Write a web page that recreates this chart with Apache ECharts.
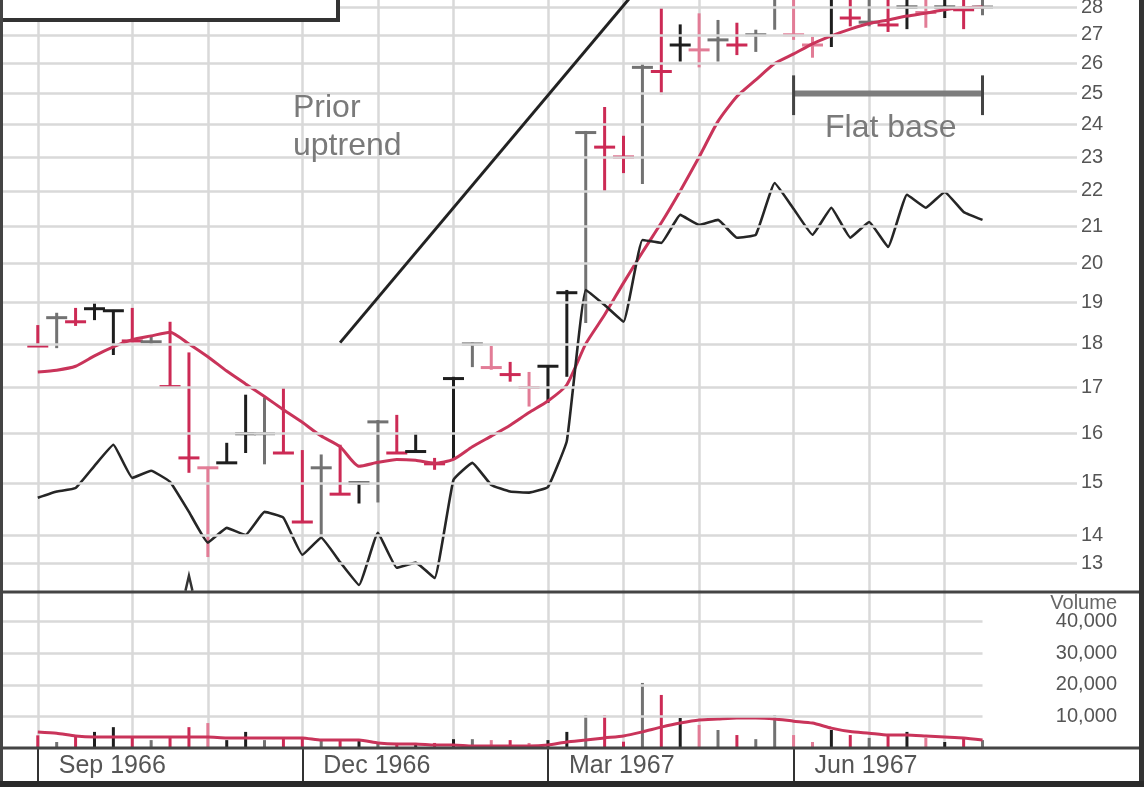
<!DOCTYPE html>
<html>
<head>
<meta charset="utf-8">
<script src="https://cdn.jsdelivr.net/npm/echarts@6/dist/echarts.min.js"></script>
<style>
html,body{margin:0;padding:0;background:#ffffff;}
#chart{width:1144px;height:787px;}
</style>
</head>
<body>
<div id="chart"></div>
<script>
// ---------------- DATA ----------------
// weekly bars, week 0 = first week of Sep 1966
const quarterLabels = ['Sep 1966', 'Dec 1966', 'Mar 1967', 'Jun 1967'];
const quarterWeeks = [0, 14, 27, 40];
const monthWeeks = [0, 5, 9, 14, 18, 22, 27, 31, 35, 40, 44, 48];

const highs = [18.45, 18.75, 18.87, 19.02, 18.82, 18.87, 18.2, 18.53, 17.8, 15.32,
  15.81, 16.84, 16.78, 17.0, 15.66, 15.57, 15.77, 15.02, 16.29, 16.4,
  16.02, 15.5, 17.24, 18.03, 17.95, 17.58, 17.35, 17.5, 19.32, 23.8,
  24.56, 23.65, 25.98, 27.97, 27.37, 27.77, 27.53, 27.43, 27.18, 28.8,
  28.9, 26.93, 28.6, 28.5, 28.5, 28.4, 28.5, 28.4, 28.4, 28.4, 28.3];
const lows = [17.93, 17.9, 18.43, 18.57, 17.74, 18.05, 17.97, 17.0, 15.2, 13.61,
  15.4, 15.6, 15.37, 15.6, 14.23, 13.96, 14.77, 14.6, 14.62, 15.6,
  15.63, 15.26, 15.46, 17.46, 17.4, 17.13, 16.58, 16.66, 17.24, 18.5,
  21.98, 22.52, 22.2, 24.97, 26.07, 25.87, 26.07, 26.29, 26.4, 27.18,
  26.82, 26.2, 26.57, 27.3, 27.3, 27.1, 27.2, 27.25, 27.6, 27.2, 27.7];
const closes = [17.95, 18.63, 18.53, 18.85, 18.8, 18.07, 18.05, 17.02, 15.5, 15.3,
  15.4, 16.0, 16.0, 15.6, 14.25, 15.3, 14.78, 15.0, 16.25, 15.6,
  15.63, 15.38, 17.2, 18.0, 17.45, 17.29, 17.0, 17.48, 19.25, 23.75,
  23.3, 23.0, 25.87, 25.73, 26.64, 26.47, 26.82, 26.64, 27.0, 28.4,
  27.0, 26.64, 28.4, 27.6, 27.45, 27.35, 28.0, 27.8, 28.0, 27.9, 28.0];
// r = red, p = pink, k = black, g = grey
const barTone = ['r','g','r','k','k','r','g','r','r','p',
  'k','k','g','r','r','g','r','k','g','r',
  'k','r','k','g','p','r','p','k','k','g',
  'r','r','g','r','k','p','g','r','g','g',
  'p','p','k','r','g','r','k','p','k','r','g'];

const priceMA = [17.35, 17.39, 17.48, 17.72, 17.93, 18.1, 18.19, 18.28, 18.0, 17.7,
  17.37, 17.08, 16.8, 16.51, 16.24, 15.95, 15.73, 15.33, 15.41, 15.47,
  15.45, 15.39, 15.47, 15.73, 15.95, 16.18, 16.45, 16.7, 17.06, 18.0,
  18.7, 19.5, 20.3, 21.1, 22.0, 23.0, 24.1, 24.9, 25.45, 26.0,
  26.33, 26.68, 26.96, 27.2, 27.4, 27.53, 27.67, 27.78, 27.9, 27.97, 28.0];

const relStrength = [14.71, 14.83, 14.90, 15.34, 15.77, 15.10, 15.24, 15.02, 14.44, 13.87,
  14.14, 14.01, 14.44, 14.33, 13.65, 13.96, 13.52, 13.12, 14.05, 13.42,
  13.51, 13.24, 15.06, 15.40, 14.96, 14.83, 14.81, 14.92, 15.85, 19.32,
  18.94, 18.53, 20.63, 20.55, 21.32, 21.04, 21.18, 20.69, 20.77, 22.23,
  21.49, 20.77, 21.52, 20.69, 21.12, 20.44, 21.89, 21.52, 21.97, 21.40, 21.18];

const volume = [4000, 1900, 3500, 5100, 6600, 3500, 2500, 3500, 6600, 7900,
  2500, 5100, 2500, 3200, 3500, 2500, 2500, 2500, 1600, 1600,
  1000, 1600, 2800, 2800, 2500, 2500, 1600, 2500, 5100, 10400,
  10400, 2000, 20600, 16800, 9500, 7300, 5700, 4100, 2800, 10400,
  4100, 1900, 5700, 4100, 3200, 4100, 5100, 3200, 1900, 3200, 2500];

const volumeMA = [5100, 4700, 3800, 3500, 3500, 3500, 3500, 3500, 3500, 3500,
  3200, 3200, 3200, 3200, 3200, 2500, 2500, 2500, 1600, 1300,
  1300, 950, 950, 630, 630, 630, 630, 950, 1900, 2500,
  3200, 3800, 5100, 6600, 7900, 8900, 9200, 9500, 9500, 9200,
  8500, 7900, 6300, 5200, 4700, 4100, 4100, 3800, 3500, 3200, 2500];

const priceTickValues = [13.5, 14, 15, 16, 17, 18, 19, 20, 21, 22, 23, 24, 25, 26, 27, 28];
const priceTickLabels = ['13','14','15','16','17','18','19','20','21','22','23','24','25','26','27','28'];
const volumeTickValues = [10000, 20000, 30000, 40000];

// annotations (week, price)
const trendLine = [[16.26, 18.03], [31.9, 28.9]];
const flatBase = { fromWeek: 40, toWeek: 50, level: 25.0, tickHigh: 25.6, tickLow: 24.3 };
const caretMark = { week: 8, top: 13.28, bottom: 13.02 };

// ---------------- BUILD ----------------
const PAD_LEFT = 2, PAD_RIGHT = 5;
const categories = [];
for (let i = -PAD_LEFT; i < highs.length + PAD_RIGHT; i++) categories.push(String(i));
const toneColor = { r: '#cc2a55', p: '#e27c96', k: '#1e1e1e', g: '#727272' };
const toneCode = { r: 0, p: 1, k: 2, g: 3 };
const toneList = [toneColor.r, toneColor.p, toneColor.k, toneColor.g];

const barData = highs.map((h, i) => [i + PAD_LEFT, h, lows[i], closes[i], toneCode[barTone[i]]]);
const volData = volume.map((v, i) => [i + PAD_LEFT, v, toneCode[barTone[i]]]);
const maData = priceMA.map((v, i) => [i + PAD_LEFT, v]);
const rsData = relStrength.map((v, i) => [i + PAD_LEFT, v]);
const vmaData = volumeMA.map((v, i) => [i + PAD_LEFT, v]);

const monthIdx = new Set(monthWeeks.map(w => w + PAD_LEFT));
const quarterIdx = {};
quarterWeeks.forEach((w, i) => { quarterIdx[w + PAD_LEFT] = quarterLabels[i]; });

const gridColor = '#d9d9d9';
const labelFont = '"Liberation Sans", Arial, Helvetica, sans-serif';

const chart = echarts.init(document.getElementById('chart'), null, { renderer: 'canvas' });

const option = {
  animation: false,
  backgroundColor: '#ffffff',
  grid: [
    { left: 0, top: 0, width: 1077, height: 592, outerBoundsMode: 'none' },
    { left: 0, top: 592, width: 1077, height: 156, outerBoundsMode: 'none' }
  ],
  xAxis: [
    {
      type: 'category', gridIndex: 0, data: categories, boundaryGap: false,
      axisLine: { show: false }, axisTick: { show: false }, axisLabel: { show: false },
      splitLine: { show: true, interval: (idx) => monthIdx.has(idx), lineStyle: { color: gridColor, width: 2.5 } }
    },
    {
      type: 'category', gridIndex: 1, data: categories, boundaryGap: false,
      axisLine: { show: false },
      axisTick: { show: true, interval: (idx) => quarterIdx[idx] !== undefined, length: 33, lineStyle: { color: '#333', width: 2 } },
      axisLabel: {
        show: true, interval: (idx) => quarterIdx[idx] !== undefined,
        formatter: (val, idx) => quarterIdx[idx] || '',
        align: 'left', padding: [0, 0, 0, 21], margin: 6,
        fontSize: 25, color: '#555', fontFamily: labelFont
      },
      splitLine: { show: true, interval: (idx) => monthIdx.has(idx), lineStyle: { color: gridColor, width: 2.5 } }
    }
  ],
  yAxis: [
    {
      type: 'log', gridIndex: 0, min: 13, max: 28.26, logBase: 10,
      axisLine: { show: false }, axisTick: { show: false }, axisLabel: { show: false }, splitLine: { show: false }
    },
    {
      type: 'value', gridIndex: 1, min: 0, max: 49400, interval: 10000, position: 'right',
      axisLine: { show: false }, axisTick: { show: false }, splitLine: { show: false },
      axisLabel: {
        show: true, margin: 40, align: 'right', fontSize: 20, color: '#555', fontFamily: labelFont,
        showMaxLabel: false, showMinLabel: false,
        formatter: (v) => (v > 0 && v % 10000 === 0) ? String(v).replace(/\B(?=(\d{3})+(?!\d))/g, ',') : ''
      }
    }
  ],
  series: [
    // price grid lines and labels
    {
      type: 'line', xAxisIndex: 0, yAxisIndex: 0, data: [], z: 1, silent: true,
      markLine: {
        silent: true, symbol: ['none', 'none'], animation: false,
        lineStyle: { color: gridColor, width: 2.5, type: 'solid' },
        label: { show: true, position: 'end', distance: 4, fontSize: 20, color: '#555', fontFamily: labelFont, padding: [0, 0, 10, 0] },
        emphasis: { disabled: true },
        data: priceTickValues.map((v, i) => ({ yAxis: v, label: { formatter: priceTickLabels[i] } }))
      }
    },
    // volume grid lines
    {
      type: 'line', xAxisIndex: 1, yAxisIndex: 1, data: [], z: 1, silent: true,
      markLine: {
        silent: true, symbol: ['none', 'none'], animation: false,
        lineStyle: { color: gridColor, width: 2.5, type: 'solid' },
        label: { show: false },
        emphasis: { disabled: true },
        data: volumeTickValues.map(v => [{ coord: [0, v] }, { coord: [highs.length - 1 + PAD_LEFT, v] }])
      }
    },
    // price bars
    {
      type: 'custom', xAxisIndex: 0, yAxisIndex: 0, z: 3, clip: true,
      data: barData,
      renderItem: function (params, api) {
        const x = api.value(0);
        const hi = api.coord([x, api.value(1)]);
        const lo = api.coord([x, api.value(2)]);
        const cl = api.coord([x, api.value(3)]);
        const col = toneList[api.value(4)];
        return {
          type: 'group', children: [
            { type: 'line', shape: { x1: hi[0], y1: hi[1], x2: lo[0], y2: lo[1] }, style: { stroke: col, lineWidth: 3 } },
            { type: 'line', shape: { x1: cl[0] - 10.5, y1: cl[1], x2: cl[0] + 10.5, y2: cl[1] }, style: { stroke: col, lineWidth: 3 } }
          ]
        };
      }
    },
    // moving average
    {
      type: 'line', xAxisIndex: 0, yAxisIndex: 0, data: maData, z: 4, smooth: 0.2,
      symbol: 'none', lineStyle: { color: '#c9345a', width: 3 }
    },
    // relative strength line
    {
      type: 'line', xAxisIndex: 0, yAxisIndex: 0, data: rsData, z: 4, smooth: 0.1,
      symbol: 'none', lineStyle: { color: '#262626', width: 2.6 }
    },
    // annotations: trend line, flat base bracket, caret marker
    {
      type: 'custom', xAxisIndex: 0, yAxisIndex: 0, z: 5, clip: false,
      data: [[0]],
      renderItem: function (params, api) {
        const a = api.coord([trendLine[0][0] + PAD_LEFT, trendLine[0][1]]);
        const b = api.coord([trendLine[1][0] + PAD_LEFT, trendLine[1][1]]);
        const f1 = api.coord([flatBase.fromWeek + PAD_LEFT, flatBase.level]);
        const f2 = api.coord([flatBase.toWeek + PAD_LEFT, flatBase.level]);
        const t1 = api.coord([flatBase.fromWeek + PAD_LEFT, flatBase.tickHigh]);
        const t2 = api.coord([flatBase.fromWeek + PAD_LEFT, flatBase.tickLow]);
        const t3 = api.coord([flatBase.toWeek + PAD_LEFT, flatBase.tickHigh]);
        const t4 = api.coord([flatBase.toWeek + PAD_LEFT, flatBase.tickLow]);
        const c1 = api.coord([caretMark.week + PAD_LEFT, caretMark.top]);
        const c2 = api.coord([caretMark.week + PAD_LEFT, caretMark.bottom]);
        return {
          type: 'group', children: [
            { type: 'line', shape: { x1: a[0], y1: a[1], x2: b[0], y2: b[1] }, style: { stroke: '#222', lineWidth: 3 } },
            { type: 'line', shape: { x1: f1[0], y1: f1[1], x2: f2[0], y2: f2[1] }, style: { stroke: '#7d7d7d', lineWidth: 6 } },
            { type: 'line', shape: { x1: t1[0], y1: t1[1], x2: t2[0], y2: t2[1] }, style: { stroke: '#444', lineWidth: 3 } },
            { type: 'line', shape: { x1: t3[0], y1: t3[1], x2: t4[0], y2: t4[1] }, style: { stroke: '#444', lineWidth: 3 } },
            { type: 'polyline', shape: { points: [[c1[0] - 3.5, c2[1]], [c1[0], c1[1]], [c1[0] + 3.5, c2[1]]] }, style: { stroke: '#333', lineWidth: 2.5, fill: null } }
          ]
        };
      }
    },
    // volume bars
    {
      type: 'custom', xAxisIndex: 1, yAxisIndex: 1, z: 3,
      data: volData,
      renderItem: function (params, api) {
        const x = api.value(0);
        const top = api.coord([x, api.value(1)]);
        const bot = api.coord([x, 0]);
        return { type: 'line', shape: { x1: top[0], y1: top[1], x2: bot[0], y2: bot[1] }, style: { stroke: toneList[api.value(2)], lineWidth: 3 } };
      }
    },
    // volume moving average
    {
      type: 'line', xAxisIndex: 1, yAxisIndex: 1, data: vmaData, z: 4, smooth: 0.2,
      symbol: 'none', lineStyle: { color: '#c9345a', width: 3 }
    }
  ],
  graphic: [
    { type: 'text', x: 293, y: 108, z: 50, style: { text: 'Prior', font: '32px ' + labelFont, fill: '#7a7a7a', verticalAlign: 'middle', align: 'left' } },
    { type: 'text', x: 293, y: 146, z: 50, style: { text: 'uptrend', font: '32px ' + labelFont, fill: '#7a7a7a', verticalAlign: 'middle', align: 'left' } },
    { type: 'text', x: 825, y: 128, z: 50, style: { text: 'Flat base', font: '32px ' + labelFont, fill: '#7a7a7a', verticalAlign: 'middle', align: 'left' } },
    { type: 'text', x: 1117, y: 603, z: 50, style: { text: 'Volume', font: '20px ' + labelFont, fill: '#666', verticalAlign: 'middle', align: 'right' } },
    // title box (top-left, mostly cut off)
    { type: 'rect', z: 60, shape: { x: 0, y: -12, width: 338, height: 32 }, style: { fill: '#ffffff', stroke: '#333', lineWidth: 4 } },
    // frame lines
    { type: 'rect', z: 70, shape: { x: 0, y: 590.5, width: 1140, height: 3 }, style: { fill: '#444' } },
    { type: 'rect', z: 70, shape: { x: 0, y: 746.5, width: 1140, height: 3 }, style: { fill: '#444' } },
    { type: 'rect', z: 70, shape: { x: 0, y: 0, width: 3, height: 787 }, style: { fill: '#444' } },
    { type: 'rect', z: 70, shape: { x: 1139, y: 0, width: 5, height: 787 }, style: { fill: '#333' } },
    { type: 'rect', z: 70, shape: { x: 0, y: 781, width: 1144, height: 6 }, style: { fill: '#2a2a2a' } }
  ]
};

chart.setOption(option);
</script>
</body>
</html>
